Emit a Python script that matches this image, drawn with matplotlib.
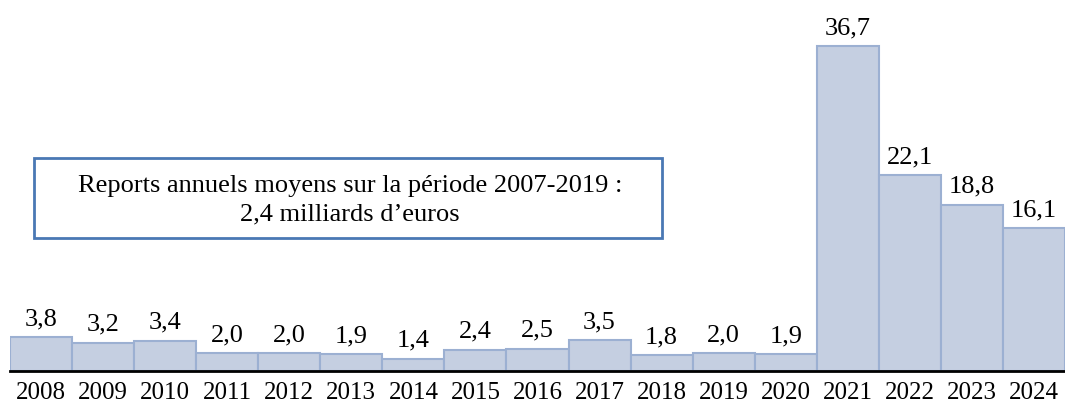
import matplotlib.pyplot as plt
from matplotlib.patches import Rectangle

years = ["2008", "2009", "2010", "2011", "2012", "2013", "2014", "2015", "2016",
         "2017", "2018", "2019", "2020", "2021", "2022", "2023", "2024"]
values = [3.8, 3.2, 3.4, 2.0, 2.0, 1.9, 1.4, 2.4, 2.5,
          3.5, 1.8, 2.0, 1.9, 36.7, 22.1, 18.8, 16.1]
caption = "Reports annuels moyens sur la période 2007-2019 :\n2,4 milliards d’euros"

plt.rcParams["font.family"] = ["Liberation Serif", "DejaVu Serif"]

W, H = 1065, 403
fig = plt.figure(figsize=(W / 100, H / 100), dpi=100)
ax = fig.add_axes([10 / W, 1 - 371 / H, 1 - 10 / W, 371 / H])

x = range(len(years))
ax.bar(x, values, width=1.0, color="#c5cfe1", edgecolor="#9cb0d2", linewidth=1.5)
for xi, v in zip(x, values):
    ax.annotate(f"{v:.1f}".replace(".", ","), (xi, v), xytext=(0, 5),
                textcoords="offset points", ha="center", va="bottom", fontsize=19)

ax.set_xlim(-0.5, len(years) - 0.5)
ax.set_ylim(0, 41.9)
ax.set_xticks(list(x))
ax.set_xticklabels(years, fontsize=18)
ax.tick_params(axis="x", length=0, pad=8)
ax.set_yticks([])
for s in ["top", "right", "left"]:
    ax.spines[s].set_visible(False)
ax.spines["bottom"].set_linewidth(2)
ax.spines["bottom"].set_color("black")

fig.patches.append(Rectangle((34 / W, 1 - 238 / H), 628 / W, 80 / H,
                             transform=fig.transFigure, facecolor="white",
                             edgecolor="#4a78b4", linewidth=2))
fig.text(350 / W, 1 - 200 / H, caption, ha="center", va="center",
         fontsize=19, linespacing=1.4)

fig.savefig("out.png", dpi=100)
